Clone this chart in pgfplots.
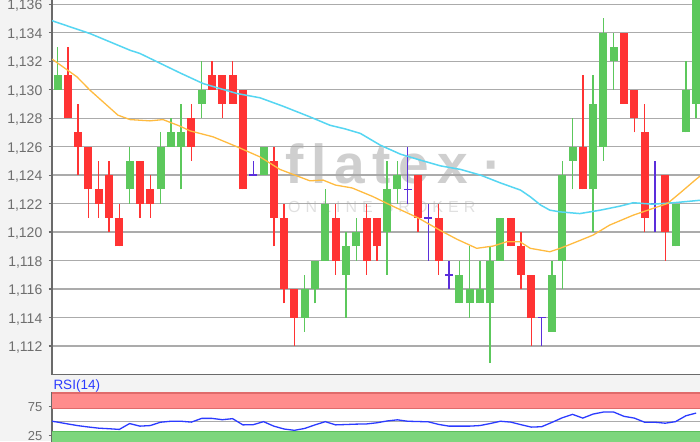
\documentclass[border=0pt]{standalone}
\usepackage{pgfplots}
\usepackage{pgfplotstable}
\pgfplotsset{compat=1.18}
\usepackage{fontspec}
\setmainfont{Liberation Sans}

\definecolor{cgreen}{HTML}{5CC85C}
\definecolor{cred}{HTML}{FF3333}
\definecolor{cdoji}{HTML}{5B2EDB}
\definecolor{ccyan}{HTML}{55D6F2}
\definecolor{corange}{HTML}{FFBB40}
\definecolor{gridc}{HTML}{ABABAB}
\definecolor{axisc}{HTML}{6A6A6A}
\definecolor{labc}{HTML}{6E6E6E}
\definecolor{bgc}{HTML}{F3F3F3}
\definecolor{rsib}{HTML}{2B3BFF}
\definecolor{bandr}{HTML}{FF8C8C}
\definecolor{bandre}{HTML}{E06A6A}
\definecolor{bandg}{HTML}{7DD67D}
\definecolor{bandge}{HTML}{5DBE5D}
\definecolor{wm}{HTML}{A8A8A8}

% candles: x open high low close
\pgfplotstableread{
x o h l c
1 1.130 1.133 1.130 1.131
8 1.123 1.126 1.122 1.125
11 1.123 1.127 1.122 1.126
12 1.126 1.128 1.126 1.127
13 1.126 1.129 1.123 1.127
15 1.129 1.132 1.128 1.130
21 1.124 1.126 1.124 1.126
25 1.114 1.117 1.113 1.116
26 1.116 1.118 1.115 1.118
27 1.118 1.123 1.118 1.122
29 1.117 1.120 1.114 1.119
30 1.119 1.121 1.118 1.120
33 1.120 1.125 1.117 1.123
34 1.123 1.125 1.122 1.124
40 1.115 1.118 1.115 1.117
41 1.115 1.119 1.114 1.116
42 1.115 1.118 1.115 1.116
43 1.115 1.119 1.1108 1.118
44 1.118 1.121 1.118 1.121
49 1.113 1.118 1.113 1.117
50 1.118 1.125 1.116 1.124
51 1.125 1.128 1.123 1.126
53 1.123 1.131 1.120 1.129
54 1.126 1.135 1.125 1.134
55 1.132 1.134 1.130 1.133
61 1.119 1.122 1.119 1.122
62 1.127 1.132 1.127 1.130
63 1.129 1.138 1.128 1.137
}\greentab

\pgfplotstableread{
x o h l c
2 1.131 1.133 1.128 1.128
3 1.127 1.129 1.124 1.126
4 1.126 1.126 1.121 1.123
5 1.123 1.125 1.121 1.122
6 1.124 1.125 1.120 1.121
7 1.121 1.122 1.119 1.119
9 1.125 1.125 1.121 1.122
10 1.123 1.124 1.121 1.122
14 1.128 1.129 1.125 1.126
16 1.131 1.132 1.130 1.130
17 1.131 1.131 1.128 1.129
18 1.131 1.132 1.129 1.129
19 1.130 1.130 1.123 1.123
22 1.125 1.126 1.119 1.121
23 1.121 1.122 1.115 1.116
24 1.116 1.116 1.112 1.114
28 1.121 1.122 1.117 1.118
31 1.121 1.122 1.117 1.118
32 1.121 1.121 1.118 1.119
36 1.124 1.124 1.120 1.121
38 1.121 1.122 1.117 1.118
45 1.121 1.121 1.119 1.119
46 1.119 1.120 1.116 1.117
47 1.117 1.117 1.112 1.114
52 1.126 1.131 1.123 1.123
56 1.134 1.134 1.129 1.129
57 1.130 1.130 1.127 1.128
58 1.127 1.129 1.120 1.121
60 1.124 1.124 1.118 1.120
}\redtab

\pgfplotstableread{
x o h l c
20 1.124 1.125 1.124 1.124
35 1.123 1.126 1.122 1.123
37 1.121 1.122 1.118 1.121
39 1.117 1.118 1.116 1.117
48 1.114 1.114 1.112 1.114
59 1.122 1.125 1.120 1.122
}\dojitab

\pgfplotsset{
  wick/.style={draw=none, mark=none,
    error bars/y dir=plus, error bars/y explicit, error bars/error mark=none,
    error bars/error bar style={line width=1.4pt, draw=#1}},
  body/.style={draw=none, mark=none,
    error bars/y dir=plus, error bars/y explicit, error bars/error mark=none,
    error bars/error bar style={line width=8pt, draw=#1}},
}

\begin{document}
\begin{tikzpicture}
\fill[bgc] (0pt,0pt) rectangle (700pt,441pt);
\begin{pgfinterruptboundingbox}
\clip (0pt,0pt) rectangle (700pt,441pt);

\begin{axis}[
  at={(52pt,66.5pt)}, anchor=south west, scale only axis,
  width=654.4pt, height=384.5pt,
  xmin=0.466, xmax=64, ymin=1.110, ymax=1.137,
  axis background/.style={fill=white},
  axis line style={axisc, line width=1.3pt},
  xtick=\empty,
  ytick={1.112,1.114,1.116,1.118,1.120,1.122,1.124,1.126,1.128,1.130,1.132,1.134,1.136},
  yticklabels={{1,112},{1,114},{1,116},{1,118},{1,120},{1,122},{1,124},{1,126},{1,128},{1,130},{1,132},{1,134},{1,136}},
  ymajorgrids, major grid style={gridc, line width=1.3pt},
  tick align=outside, major tick length=3.5pt,
  tick style={axisc, line width=1.2pt},
  yticklabel style={font=\fontsize{14}{14}\selectfont, text=labc, anchor=base east, inner sep=0pt, yshift=-5.7pt, xshift=-6pt},
]
\node[anchor=base west, inner sep=0pt, text=wm, text opacity=0.55, font=\fontsize{55}{55}\selectfont\bfseries]
  at (axis cs:23.09,1.12344) {f\hspace{7.8pt}l\hspace{7.8pt}a\hspace{7.8pt}t\hspace{7.8pt}e\hspace{7.8pt}x\hspace{16pt}·};
\node[anchor=base west, inner sep=0pt, text=wm, text opacity=0.35, font=\fontsize{16}{16}\selectfont]
  at (axis cs:23.38,1.121404) {O\hspace{5pt}N\hspace{5pt}L\hspace{5pt}I\hspace{5pt}N\hspace{5pt}E\hspace{10pt}B\hspace{5pt}R\hspace{5pt}O\hspace{5pt}K\hspace{5pt}E\hspace{5pt}R};

\addplot[wick=cgreen] table[x=x, y=l, y error plus expr=\thisrow{h}-\thisrow{l}] {\greentab};
\addplot[body=cgreen] table[x=x, y=o, y error plus expr=\thisrow{c}-\thisrow{o}] {\greentab};
\addplot[wick=cred] table[x=x, y=l, y error plus expr=\thisrow{h}-\thisrow{l}] {\redtab};
\addplot[body=cred] table[x=x, y=c, y error plus expr=\thisrow{o}-\thisrow{c}] {\redtab};
\addplot[wick=cdoji] table[x=x, y=l, y error plus expr=\thisrow{h}-\thisrow{l}] {\dojitab};
\addplot[draw=none, mark=none, error bars/x dir=both, error bars/x fixed=0.39, error bars/error mark=none,
  error bars/error bar style={line width=1.5pt, draw=cdoji}] table[x=x, y=o] {\dojitab};

\addplot[ccyan, line width=1.5pt, mark=none] coordinates {
(0.47,1.13485) (0.76,1.13477) (4.16,1.13394) (8.04,1.13277) (9.01,1.13254)
(12.89,1.13118) (15.13,1.13043) (18.43,1.12973) (20.66,1.12943) (22.89,1.12884)
(25.51,1.12809) (27.46,1.12750) (28.9,1.12725) (30.4,1.12693) (32.35,1.12610)
(34.3,1.12547) (36.24,1.12505) (38.18,1.12465) (40.13,1.12440) (42.07,1.12400)
(44.01,1.12345) (45.95,1.12295) (46.9,1.12248) (47.9,1.12190) (48.8,1.12154)
(49.8,1.12142) (51.7,1.12130) (53.7,1.12154) (55.6,1.12182) (56.9,1.12206)
(58.8,1.12196) (60.8,1.12206) (62.9,1.12220) (64,1.12228)};

\addplot[corange, line width=1.3pt, mark=none] coordinates {
(0.47,1.13215) (0.76,1.13200) (2.89,1.13090) (4.16,1.12996) (6.87,1.12821)
(8.04,1.12790) (9.98,1.12781) (11.24,1.12790) (12.89,1.12744) (13.86,1.12711)
(16.1,1.12669) (18.43,1.12599) (20.66,1.12528) (22.6,1.12440) (25.5,1.12360)
(26.78,1.12365) (28.0,1.12330) (29.6,1.12310) (31.6,1.12250) (33.6,1.12180)
(36.0,1.12100) (38.1,1.12014) (39.8,1.11949) (41.7,1.11886) (43.3,1.11902)
(44.6,1.11932) (45.9,1.11932) (46.9,1.11886) (48.8,1.11862) (49.8,1.11886)
(51.4,1.11932) (53.0,1.11979) (54.6,1.12049) (56.9,1.12119) (58.8,1.12166)
(60.2,1.12200) (61.4,1.12272) (62.9,1.12365) (64,1.12430)};
\end{axis}

\begin{axis}[
  at={(52pt,48.5pt)}, anchor=north west, scale only axis,
  width=654.4pt, height=57.5pt,
  xmin=0.466, xmax=64, ymin=0, ymax=100,
  axis background/.style={fill=white},
  axis line style={axisc, line width=1.3pt},
  xtick=\empty, ytick={25,75}, yticklabels={25,75},
  extra y ticks={50}, extra y tick labels={},
  extra y tick style={grid=major, major tick length=0pt},
  major grid style={gridc, line width=1.3pt},
  tick align=outside, major tick length=3.5pt,
  tick style={axisc, line width=1.2pt},
  yticklabel style={font=\fontsize{13}{13}\selectfont, text=labc, anchor=base east, inner sep=0pt, yshift=-4.6pt, xshift=-6pt},
]
\fill[bandr] (axis cs:0,72) rectangle (axis cs:70,100);
\draw[bandre, line width=1.5pt] (axis cs:0,72.5) -- (axis cs:70,72.5);
\draw[bandre, line width=2pt] (axis cs:0,99) -- (axis cs:70,99);
\fill[bandg] (axis cs:0,0) rectangle (axis cs:70,33);
\draw[bandge, line width=1.5pt] (axis cs:0,32.5) -- (axis cs:70,32.5);
\addplot[rsib, line width=1.3pt, mark=none] coordinates {
(0.47,50) (1,48.5) (2,45.3) (3,42.3) (4,40) (5,38) (6,37) (7,35.8) (8,46) (9,41.5)
(10,42.5) (11,48.3) (12,50) (13,50) (14,48.5) (15,55) (16,55) (17,52.7) (18,54.5) (19,43.7)
(20,44) (21,49.3) (22,41.5) (23,36.5) (24,34.2) (25,37.5) (26,43.7) (27,49.3) (28,43.7) (29,44.3)
(30,45) (31,45.3) (32,47.3) (33,50.5) (34,52.5) (35,50) (36,49.5) (37,49) (38,44.5) (39,41.5)
(40,41.5) (41,41.5) (42,42.5) (43,46) (44,50) (45,48.5) (46,44) (47,39.8) (48,40.5) (49,48)
(50,56) (51,62) (52,55.5) (53,62.5) (54,66) (55,66) (56,58.5) (57,55.5) (58,48.3) (59,48.3)
(60,46.6) (61,49.3) (62,59.5) (63,64.2)};
\end{axis}

\node[anchor=base west, inner sep=0pt, text=rsib, font=\fontsize{13.5}{13.5}\selectfont] at (53.3pt,51.3pt) {RSI(14)};
\end{pgfinterruptboundingbox}
\end{tikzpicture}
\end{document}
